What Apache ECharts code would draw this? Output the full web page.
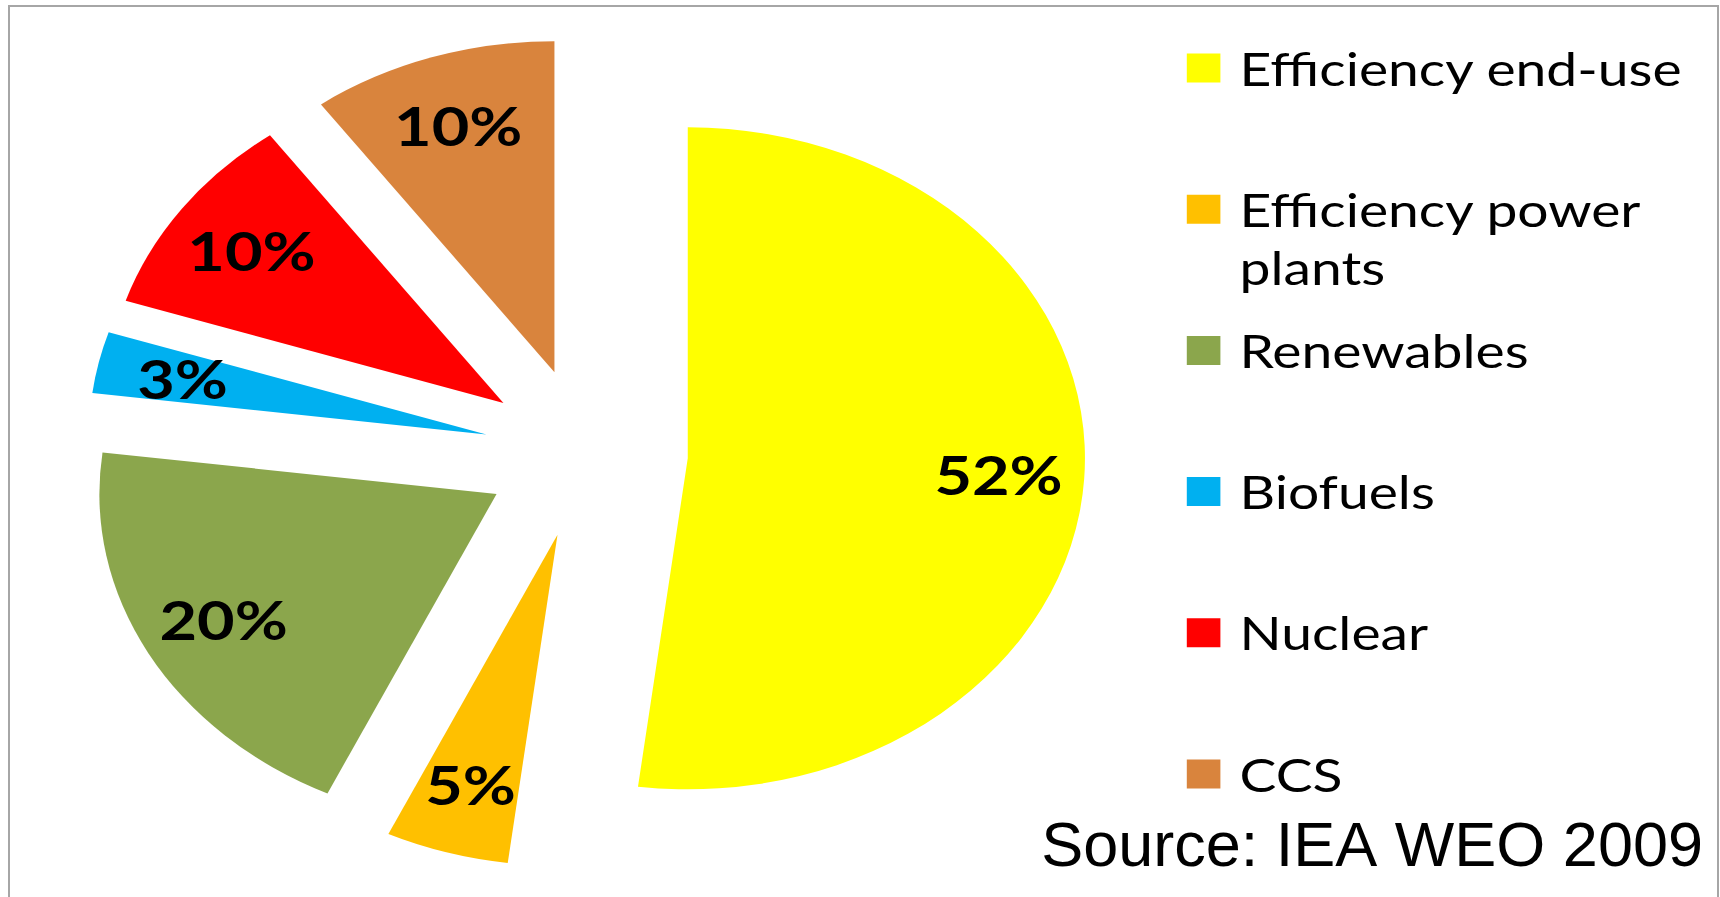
<!DOCTYPE html>
<html><head><meta charset="utf-8">
<script src="https://cdn.jsdelivr.net/npm/echarts@6/dist/echarts.min.js"></script>
<style>
html,body{margin:0;padding:0;background:#fff;overflow:hidden;width:1720px;height:897px;}
#pie{position:absolute;left:0;top:0;width:1434px;height:897px;transform:scaleX(1.2);transform-origin:0 0;}
#over{position:absolute;left:0;top:0;width:1720px;height:897px;}
</style></head><body>
<div id="pie"></div><div id="over"></div>
<script>
// ---- data ----
const categories = ['Efficiency end-use', 'Efficiency power plants', 'Renewables', 'Biofuels', 'Nuclear', 'CCS'];
const shares = [52, 5, 20, 3, 10, 10];
const colors = ['#FFFF00', '#FFC000', '#8BA64C', '#00B0F0', '#FF0000', '#D9843D'];
const sourceNote = 'Source: IEA WEO 2009';

// ---- layout (unscaled coordinates of the horizontally stretched pie layer) ----
const CENTER = [488.3, 453];
const R = 331;
const OFFSET = 85;
const LINE = 58;
const LEG_FONT = 46;
const LEG_FIRST = 68, LEG_STEP = 141.2;

const pie = echarts.init(document.getElementById('pie'), null, {renderer: 'svg'});
const baseSeries = {
  type: 'pie', center: CENTER, startAngle: 90, clockwise: true,
  selectedMode: 'multiple', selectedOffset: OFFSET, avoidLabelOverlap: false,
  emphasis: {disabled: true}, labelLine: {show: false}
};
const legends = categories.map((name, i) => {
  const c = LEG_FIRST + i * LEG_STEP;
  const two = i === 1;
  const ts = {
    fontFamily: 'Lato', fontSize: LEG_FONT, color: '#000', lineHeight: LINE,
    width: 420, overflow: 'break', padding: two ? [LINE, 0, 0, 11] : [0, 0, 0, 11]
  };
  if (two) ts.rich = {z: {}};
  return {
    data: [name], orient: 'vertical', left: 989, top: two ? c - 1.5 * LINE : c - LINE / 2,
    padding: 0, icon: 'rect', itemWidth: 28, itemHeight: 29, selectedMode: false,
    textStyle: ts
  };
});
pie.setOption({
  animation: false,
  legend: legends,
  series: [
    Object.assign({}, baseSeries, {
      name: 'share', radius: R,
      itemStyle: {borderWidth: 0},
      label: {show: false},
      data: categories.map((n, i) => ({name: n, value: shares[i], selected: true, itemStyle: {color: colors[i]}}))
    }),
    Object.assign({}, baseSeries, {
      name: 'labels', silent: true, radius: [R * 0.55, R],
      itemStyle: {color: 'rgba(0,0,0,0)', borderWidth: 0},
      label: {show: true, position: 'inside', formatter: '{d}%', fontFamily: 'Lato', fontWeight: 'bold', fontSize: 54, color: '#000'},
      data: categories.map((n, i) => ({name: n, value: shares[i], selected: true}))
    })
  ]
});

const over = echarts.init(document.getElementById('over'));
over.setOption({
  animation: false,
  graphic: [
    {type: 'rect', silent: true, shape: {x: 9, y: 6, width: 1709, height: 1000}, style: {fill: 'none', stroke: '#A6A6A6', lineWidth: 2}},
    {type: 'text', silent: true, x: 1703, y: 849, style: {text: sourceNote, fontFamily: 'Liberation Sans', fontSize: 63, fill: '#000', align: 'right', verticalAlign: 'middle'}}
  ]
});
</script>
</body></html>
